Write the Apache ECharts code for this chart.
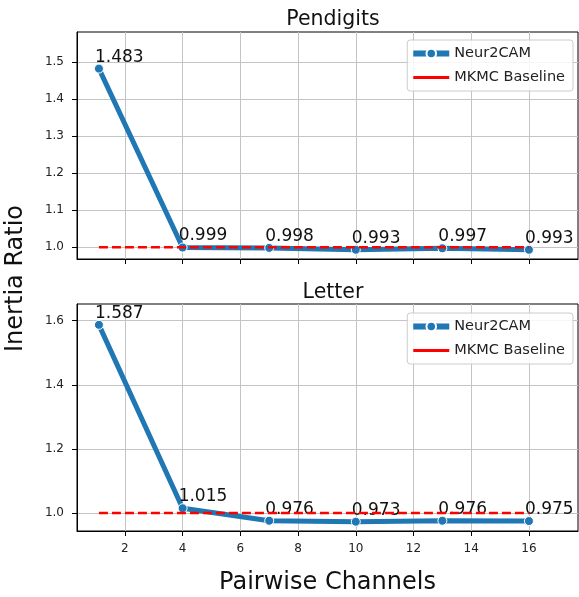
<!DOCTYPE html>
<html>
<head>
<meta charset="utf-8">
<script src="https://cdn.jsdelivr.net/npm/echarts@6/dist/echarts.min.js"></script>
<style>
html, body { margin: 0; padding: 0; background: #fff; }
#main { width: 579px; height: 597px; }
</style>
</head>
<body>
<div id="main"></div>
<script>
// data
var channels = [1.1, 4, 7, 10, 13, 16];
var pendigitsRatio = [1.483, 0.999, 0.998, 0.993, 0.997, 0.993];
var letterRatio = [1.587, 1.015, 0.976, 0.973, 0.976, 0.975];
var baselineX = [1.1, 16];
var baselineY = [1.0, 1.0];
var xTicks = [2, 4, 6, 8, 10, 12, 14, 16];
var pendigitsTicks = [1.0, 1.1, 1.2, 1.3, 1.4, 1.5];
var letterTicks = [1.0, 1.2, 1.4, 1.6];

var FONT = 'DejaVu Sans';
var BLUE = '#1f77b4';

function pairs(xs, ys) {
    return xs.map(function (x, i) { return [x, ys[i]]; });
}

function xAxisFor(idx, showLabels) {
    return {
        type: 'value', gridIndex: idx, min: 0.34, max: 17.7,
        axisLine: { show: true, onZero: false, lineStyle: { color: '#000', width: 1 } },
        axisTick: { show: true, length: 5, customValues: xTicks, lineStyle: { color: '#000' } },
        axisLabel: { show: showLabels, customValues: xTicks, color: '#222', fontFamily: FONT, fontSize: 12, margin: 12 },
        splitLine: { show: true, lineStyle: { color: '#c4c4c4', width: 1 } },
        name: showLabels ? 'Pairwise Channels' : '',
        nameLocation: 'middle', nameGap: 40,
        nameTextStyle: { fontFamily: FONT, fontSize: 24, color: '#111' }
    };
}

function yAxisFor(idx, lo, hi, ticks) {
    return {
        type: 'value', gridIndex: idx, min: lo, max: hi,
        axisLine: { show: true, lineStyle: { color: '#000', width: 1 } },
        axisTick: { show: true, length: 5, customValues: ticks, lineStyle: { color: '#000' } },
        axisLabel: {
            customValues: ticks, color: '#222', fontFamily: FONT, fontSize: 12, margin: 13,
            formatter: function (v) { return v.toFixed(1); }
        },
        splitLine: { show: true, lineStyle: { color: '#c4c4c4', width: 1 } }
    };
}

function neurSeries(idx, ys) {
    return {
        name: 'Neur2CAM', type: 'line', xAxisIndex: idx, yAxisIndex: idx,
        data: pairs(channels, ys),
        symbol: 'circle', symbolSize: 9, z: 2,
        lineStyle: { color: BLUE, width: 5 },
        itemStyle: { color: BLUE, borderColor: '#fff', borderWidth: 1 },
        label: {
            show: true, position: [1, 2], align: 'left', verticalAlign: 'bottom',
            fontFamily: FONT, fontSize: 17, color: '#111',
            formatter: function (p) { return p.value[1].toFixed(3); }
        },
        emphasis: { disabled: true }
    };
}

function baseSeries(idx) {
    return {
        name: 'MKMC Baseline', type: 'line', xAxisIndex: idx, yAxisIndex: idx,
        data: pairs(baselineX, baselineY),
        symbol: 'none', z: 3,
        lineStyle: { color: '#ff0000', width: 2.5, type: [9, 4] },
        itemStyle: { color: '#ff0000' },
        emphasis: { disabled: true }
    };
}

function legendFor(top) {
    return {
        orient: 'vertical', right: 6, top: top,
        data: [
            { name: 'Neur2CAM', lineStyle: { width: 6 } },
            { name: 'MKMC Baseline', itemStyle: { opacity: 0 }, lineStyle: { width: 3, type: 'solid' } }
        ],
        itemWidth: 36, itemHeight: 12, itemGap: 9,
        padding: [6, 8, 6, 3],
        backgroundColor: 'rgba(255,255,255,0.85)',
        borderColor: '#ccc', borderWidth: 1, borderRadius: 3,
        textStyle: { fontFamily: FONT, fontSize: 14.5, color: '#222' }
    };
}

var chart = echarts.init(document.getElementById('main'));

var option = {
    animation: false,
    backgroundColor: '#fff',
    title: [
        { text: 'Pendigits', left: 328, top: 4, textAlign: 'center',
          textStyle: { fontFamily: FONT, fontSize: 20.5, fontWeight: 'normal', color: '#111' } },
        { text: 'Letter', left: 328, top: 277, textAlign: 'center',
          textStyle: { fontFamily: FONT, fontSize: 20.5, fontWeight: 'normal', color: '#111' } }
    ],
    legend: [legendFor(40), legendFor(313)],
    grid: [
        { left: 77, right: 1, top: 32, height: 227, show: true, borderColor: '#000', borderWidth: 1 },
        { left: 77, right: 1, top: 304, height: 227, show: true, borderColor: '#000', borderWidth: 1 }
    ],
    xAxis: [xAxisFor(0, false), xAxisFor(1, true)],
    yAxis: [
        yAxisFor(0, 0.968, 1.582, pendigitsTicks),
        yAxisFor(1, 0.944, 1.652, letterTicks)
    ],
    graphic: [{
        type: 'text', left: 4, top: 205, rotation: Math.PI / 2,
        style: { text: 'Inertia Ratio', fontFamily: FONT, fontSize: 24, fill: '#111' }
    }],
    series: [
        neurSeries(0, pendigitsRatio), baseSeries(0),
        neurSeries(1, letterRatio), baseSeries(1)
    ]
};

chart.setOption(option);
</script>
</body>
</html>
